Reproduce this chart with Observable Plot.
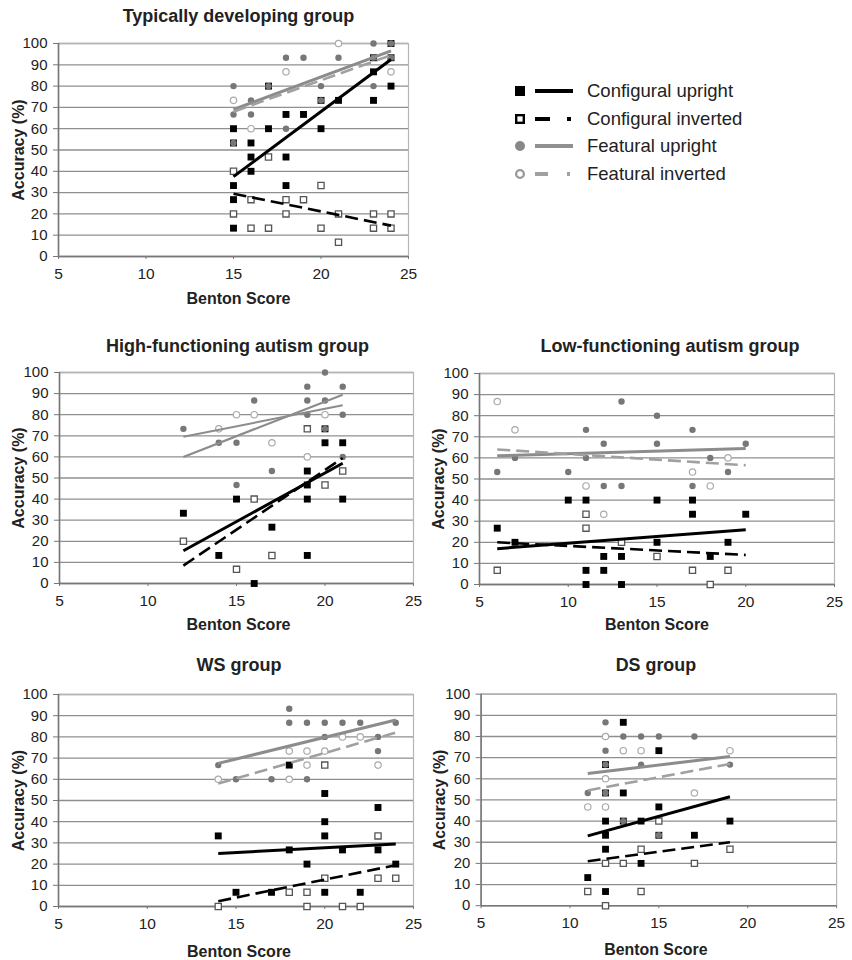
<!DOCTYPE html>
<html>
<head>
<meta charset="utf-8">
<script src="https://cdn.jsdelivr.net/npm/d3@7"></script>
<script src="https://cdn.jsdelivr.net/npm/@observablehq/plot@0.6"></script>
<style>
  html, body { margin: 0; padding: 0; background: #fff; overflow: hidden; }
  #root { position: relative; width: 852px; height: 960px; font-family: "Liberation Sans", Arial, sans-serif; }
  .panel { position: absolute; }
  #legend { position: absolute; left: 505px; top: 77px; }
  .lrow { display: flex; align-items: center; height: 27.7px; font-size: 18.5px; color: #222; white-space: nowrap; }
  .lrow svg { margin-right: 6px; }
</style>
</head>
<body>
<div id="root"></div>
<script>
// ---------- data (Benton score, accuracy %) ----------
const xTicks = [5, 10, 15, 20, 25];
const yTicks = [0, 10, 20, 30, 40, 50, 60, 70, 80, 90, 100];
const seriesNames = ["Configural upright", "Configural inverted", "Featural upright", "Featural inverted"];

// Typically developing group
const td_cu = [[15,60],[15,53.3],[15,33.3],[15,26.7],[15,13.3],[16,53.3],[16,46.7],[16,40],[17,80],[17,60],[18,66.7],[18,46.7],[18,33.3],[19,66.7],[20,73.3],[20,60],[21,73.3],[23,93.3],[23,86.7],[23,73.3],[24,100],[24,93.3],[24,80]];
const td_ci = [[15,40],[15,20],[16,26.7],[16,13.3],[17,46.7],[17,13.3],[18,26.7],[18,20],[19,26.7],[20,33.3],[20,13.3],[21,20],[21,6.7],[23,20],[23,13.3],[24,20],[24,13.3]];
const td_fu = [[15,80],[15,66.7],[15,53.3],[16,73.3],[16,66.7],[17,80],[18,93.3],[18,60],[19,93.3],[20,80],[20,73.3],[21,93.3],[23,100],[23,93.3],[23,80],[24,100],[24,93.3]];
const td_fi = [[15,73.3],[16,60],[18,86.7],[21,100],[24,86.7]];
const td_trend = [[15,37.5,24,92.5],[15,29.5,24,14.5],[15,69,24,96.5],[15,68,24,94.5]];

// High-functioning autism group
const hfa_cu = [[12,33.3],[14,13.3],[15,40],[16,0],[17,26.7],[19,53.3],[19,46.7],[19,40],[19,13.3],[20,73.3],[20,66.7],[21,66.7],[21,40]];
const hfa_ci = [[12,20],[15,6.7],[16,40],[17,13.3],[19,73.3],[20,46.7],[21,53.3]];
const hfa_fu = [[12,73.3],[14,66.7],[15,66.7],[15,46.7],[16,86.7],[17,53.3],[19,93.3],[19,86.7],[19,80],[20,100],[20,86.7],[20,73.3],[21,93.3],[21,80],[21,60]];
const hfa_fi = [[14,73.3],[15,80],[16,80],[17,66.7],[19,60],[20,80]];
const hfa_trend = [[12,15.5,21,57],[12,8.5,21,59.5],[12,60,21,89.5],[12,69.5,21,84.5]];

// Low-functioning autism group
const lfa_cu = [[6,26.7],[7,20],[10,40],[11,40],[11,6.7],[11,0],[12,13.3],[12,6.7],[13,13.3],[13,0],[15,40],[15,20],[17,40],[17,33.3],[18,13.3],[19,20],[20,33.3]];
const lfa_ci = [[6,6.7],[11,33.3],[11,26.7],[13,20],[15,13.3],[17,6.7],[18,0],[19,6.7]];
const lfa_fu = [[6,53.3],[7,60],[10,53.3],[11,73.3],[11,60],[12,66.7],[12,46.7],[13,86.7],[13,46.7],[15,80],[15,66.7],[17,73.3],[17,46.7],[18,60],[19,53.3],[20,66.7]];
const lfa_fi = [[6,86.7],[7,73.3],[11,46.7],[12,33.3],[17,53.3],[18,46.7],[19,60]];
const lfa_trend = [[6,17,20,26],[6,20,20,14],[6,61,20,64.5],[6,64,20,56.5]];

// WS group
const ws_cu = [[14,33.3],[15,6.7],[17,6.7],[18,66.7],[18,26.7],[19,20],[20,53.3],[20,40],[20,33.3],[20,6.7],[21,26.7],[22,6.7],[23,46.7],[23,26.7],[24,20]];
const ws_ci = [[14,0],[18,6.7],[19,6.7],[19,0],[20,66.7],[20,13.3],[21,0],[22,0],[23,33.3],[23,13.3],[24,13.3]];
const ws_fu = [[14,66.7],[15,60],[17,60],[18,93.3],[18,86.7],[19,86.7],[19,60],[20,86.7],[20,80],[21,86.7],[22,86.7],[23,80],[23,73.3],[24,86.7]];
const ws_fi = [[14,60],[18,73.3],[18,60],[19,73.3],[19,66.7],[20,73.3],[21,80],[22,80],[23,66.7]];
const ws_trend = [[14,25,24,29.5],[14,2.5,24,19.5],[14,67.5,24,88],[14,58,24,82]];

// DS group
const ds_cu = [[11,13.3],[12,66.7],[12,53.3],[12,40],[12,33.3],[12,26.7],[12,6.7],[13,86.7],[13,53.3],[13,40],[14,40],[14,20],[15,73.3],[15,46.7],[15,33.3],[17,33.3],[19,40]];
const ds_ci = [[11,6.7],[12,20],[12,0],[13,20],[14,26.7],[14,6.7],[15,40],[17,20],[19,26.7]];
const ds_fu = [[11,53.3],[12,86.7],[12,73.3],[12,66.7],[12,53.3],[13,80],[13,40],[14,80],[14,66.7],[15,80],[15,33.3],[17,80],[19,66.7]];
const ds_fi = [[11,46.7],[12,80],[12,60],[12,46.7],[13,73.3],[14,73.3],[17,53.3],[19,73.3]];
const ds_trend = [[11,33,19,51.5],[11,21,19,30],[11,62.5,19,70.5],[11,54.5,19,67]];

// ---------- styles ----------
const FONT = "'Liberation Sans', Arial, sans-serif";
const lineStyles = [
  {stroke: "#000", strokeWidth: 3},
  {stroke: "#000", strokeWidth: 2.6, strokeDasharray: "13,6"},
  {stroke: "#8c8c8c", strokeWidth: 3},
  {stroke: "#a0a0a0", strokeWidth: 2.6, strokeDasharray: "13,6"}
];

const panels = [
  {title: "Typically developing group", cu: td_cu, ci: td_ci, fu: td_fu, fi: td_fi, trend: td_trend, L: 58, R: 408, T: 43, B: 256, tdy: -27.5, tdx: 5, bdy: 42, bdx: 5, adx: -40},
  {title: "High-functioning autism group", cu: hfa_cu, ci: hfa_ci, fu: hfa_fu, fi: hfa_fi, trend: hfa_trend, L: 59, R: 413, T: 372, B: 583, tdy: -26.5, tdx: 1, bdy: 41, bdx: 2, adx: -41, thin: true},
  {title: "Low-functioning autism group", cu: lfa_cu, ci: lfa_ci, fu: lfa_fu, fi: lfa_fi, trend: lfa_trend, L: 479, R: 834, T: 373, B: 584, tdy: -27.5, tdx: 13, bdy: 40, bdx: 0, adx: -41},
  {title: "WS group", cu: ws_cu, ci: ws_ci, fu: ws_fu, fi: ws_fi, trend: ws_trend, L: 58, R: 413, T: 694, B: 906, tdy: -29.5, tdx: 3, bdy: 45.7, bdx: 3, adx: -40},
  {title: "DS group", cu: ds_cu, ci: ds_ci, fu: ds_fu, fi: ds_fi, trend: ds_trend, L: 481, R: 839, T: 694, B: 907, tdy: -29.5, tdx: -3, bdy: 44.7, bdx: -3, adx: -41}
];

const pts = arr => arr.map(([x, y]) => ({x, y}));
const root = document.getElementById("root");
const ML = 58, MR = 16, MT = 45, MB = 55;

for (const p of panels) {
  const ls = lineStyles.map((s, i) => {
    if (!p.thin) return s;
    if (i === 2) return {...s, strokeWidth: 2.2};
    if (i === 3) return {stroke: "#8c8c8c", strokeWidth: 2};
    return s;
  });
  const labelOpts = {text: d => d, textAnchor: "middle", lineAnchor: "middle", fontWeight: "bold", fill: "#222"};
  const chart = Plot.plot({
    width: (p.R - p.L) + ML + MR,
    height: (p.B - p.T) + MT + MB,
    marginLeft: ML, marginRight: MR, marginTop: MT, marginBottom: MB,
    style: {fontFamily: FONT, background: "transparent", overflow: "visible", color: "#222"},
    x: {domain: [5, 25], ticks: xTicks},
    y: {domain: [0, 100], ticks: yTicks},
    marks: [
      Plot.gridY(yTicks, {stroke: "#8f8f8f", strokeOpacity: 1, strokeWidth: 1.3}),
      Plot.frame({stroke: "#b5b5b5", strokeWidth: 1.2}),
      Plot.ruleX([5], {stroke: "#777", strokeWidth: 1.6}),
      Plot.ruleY([0], {stroke: "#777", strokeWidth: 1.6}),
      Plot.axisY(yTicks, {tickSize: 5, tickPadding: 6, fontSize: 15, label: null, stroke: "#777", fill: "#222"}),
      Plot.axisX(xTicks, {tickSize: 3, tickPadding: 8, fontSize: 15.5, label: null, stroke: "#777", fill: "#222"}),
      Plot.dot(pts(p.cu), {x: "x", y: "y", symbol: "square", r: 3.9, fill: "#000", stroke: "none"}),
      Plot.dot(pts(p.ci), {x: "x", y: "y", symbol: "square", r: 3.5, fill: "#fff", stroke: "#555", strokeWidth: 1.3}),
      Plot.dot(pts(p.fu), {x: "x", y: "y", r: 3.2, fill: "#777", stroke: "none"}),
      Plot.dot(pts(p.fi), {x: "x", y: "y", r: 3.2, fill: "#fff", stroke: "#aaa", strokeWidth: 1.2}),
      ...p.trend.map((t, i) => Plot.link([t], {x1: d => d[0], y1: d => d[1], x2: d => d[2], y2: d => d[3], ...ls[i]})),
      Plot.text([p.title], {...labelOpts, frameAnchor: "top", dy: p.tdy, dx: p.tdx, fontSize: 18}),
      Plot.text(["Benton Score"], {...labelOpts, frameAnchor: "bottom", dy: p.bdy, dx: p.bdx, fontSize: 16}),
      Plot.text(["Accuracy (%)"], {...labelOpts, frameAnchor: "left", dx: p.adx, rotate: -90, fontSize: 16})
    ]
  });
  const wrap = document.createElement("div");
  wrap.className = "panel";
  wrap.style.left = (p.L - ML) + "px";
  wrap.style.top = (p.T - MT) + "px";
  wrap.appendChild(chart);
  root.appendChild(wrap);
}

// ---------- legend ----------
const legendGlyphs = [
  `<rect x="10" y="5" width="10" height="10" fill="#000"/><line x1="30" y1="10" x2="68" y2="10" stroke="#000" stroke-width="4"/>`,
  `<rect x="11.2" y="6.2" width="7.6" height="7.6" fill="#fff" stroke="#000" stroke-width="2.4"/><line x1="30" y1="10" x2="45" y2="10" stroke="#000" stroke-width="4"/><line x1="62" y1="10" x2="66" y2="10" stroke="#000" stroke-width="4"/>`,
  `<circle cx="15" cy="10" r="5" fill="#888"/><line x1="30" y1="10" x2="68" y2="10" stroke="#909090" stroke-width="4"/>`,
  `<circle cx="15" cy="10" r="3.9" fill="#fff" stroke="#999" stroke-width="2.3"/><line x1="30" y1="10" x2="43" y2="10" stroke="#a0a0a0" stroke-width="4"/><line x1="62" y1="10" x2="65" y2="10" stroke="#a0a0a0" stroke-width="4"/>`
];
const legend = document.createElement("div");
legend.id = "legend";
legend.innerHTML = seriesNames.map((n, i) =>
  `<div class="lrow"><svg width="76" height="20">${legendGlyphs[i]}</svg><span>${n}</span></div>`).join("");
root.appendChild(legend);
</script>
</body>
</html>
